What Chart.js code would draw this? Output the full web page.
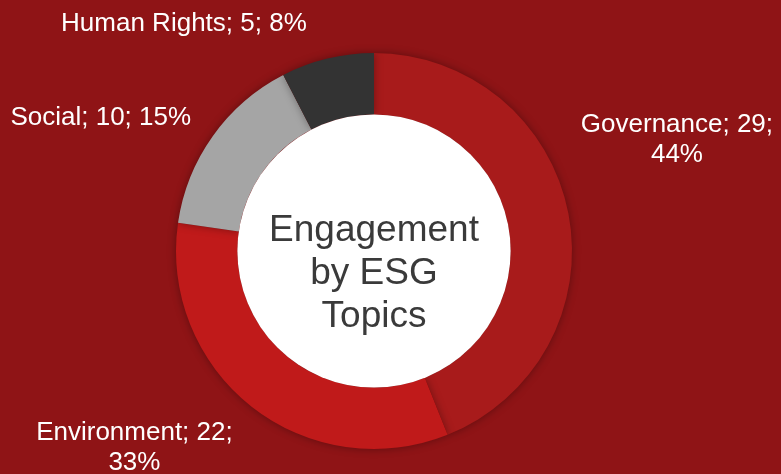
<!DOCTYPE html>
<html>
<head>
<meta charset="utf-8">
<script src="https://cdn.jsdelivr.net/npm/chart.js@4"></script>
<style>
  html, body { margin: 0; padding: 0; background: #8f1416; }
  canvas { display: block; }
</style>
</head>
<body>
<canvas id="esgChart" width="781" height="474"></canvas>
<script>
const topics = ["Governance", "Environment", "Social", "Human Rights"];
const engagements = [29, 22, 10, 5];
const sliceColors = ["#a81b1b", "#c01a1a", "#a5a5a5", "#333333"];
const centerLines = ["Engagement", "by ESG", "Topics"];

// where each label sits, relative to the doughnut centre, in outer radii
const labelOffsets = [[1.53, -0.56], [-1.21, 0.995], [-1.38, -0.675], [-0.96, -1.145]];
const labelWraps = [true, true, false, false];

const total = engagements.reduce((a, b) => a + b, 0);

const ringShadow = {
  id: "ringShadow",
  beforeDatasetsDraw(chart) {
    const ctx = chart.ctx;
    ctx.save();
    ctx.shadowColor = "rgba(0,0,0,0.35)";
    ctx.shadowBlur = 8;
  },
  afterDatasetsDraw(chart) {
    chart.ctx.restore();
  }
};

const centerAndLabels = {
  id: "centerAndLabels",
  afterDraw(chart) {
    const ctx = chart.ctx;
    const arc = chart.getDatasetMeta(0).data[0];
    const cx = arc.x, cy = arc.y, r = arc.outerRadius;

    // white hole
    ctx.save();
    ctx.beginPath();
    ctx.arc(cx, cy, arc.innerRadius, 0, Math.PI * 2);
    ctx.fillStyle = "#ffffff";
    ctx.fill();

    ctx.fillStyle = "#3a3a3a";
    ctx.font = "37px 'Liberation Sans', Arial, sans-serif";
    ctx.textAlign = "center";
    ctx.textBaseline = "middle";
    centerLines.forEach((line, i) => {
      ctx.fillText(line, cx, cy + 23 + (i - 1) * 43);
    });

    // outside labels
    ctx.fillStyle = "#ffffff";
    ctx.font = "26px 'Liberation Sans', Arial, sans-serif";
    topics.forEach((name, i) => {
      const pct = Math.round(engagements[i] / total * 100) + "%";
      const lines = labelWraps[i]
        ? [name + "; " + engagements[i] + ";", pct]
        : [name + "; " + engagements[i] + "; " + pct];
      const x = cx + labelOffsets[i][0] * r;
      const y = cy + labelOffsets[i][1] * r;
      const lh = 30;
      lines.forEach((line, j) => {
        ctx.fillText(line, x, y + (j - (lines.length - 1) / 2) * lh);
      });
    });
    ctx.restore();
  }
};

new Chart(document.getElementById("esgChart"), {
  type: "doughnut",
  data: {
    labels: topics,
    datasets: [{
      data: engagements,
      backgroundColor: sliceColors,
      borderWidth: 0
    }]
  },
  options: {
    responsive: false,
    animation: false,
    cutout: "69%",
    layout: { padding: { top: 53, bottom: 25, left: 0, right: 33 } },
    plugins: {
      legend: { display: false },
      tooltip: { enabled: false }
    }
  },
  plugins: [ringShadow, centerAndLabels]
});
</script>
</body>
</html>
